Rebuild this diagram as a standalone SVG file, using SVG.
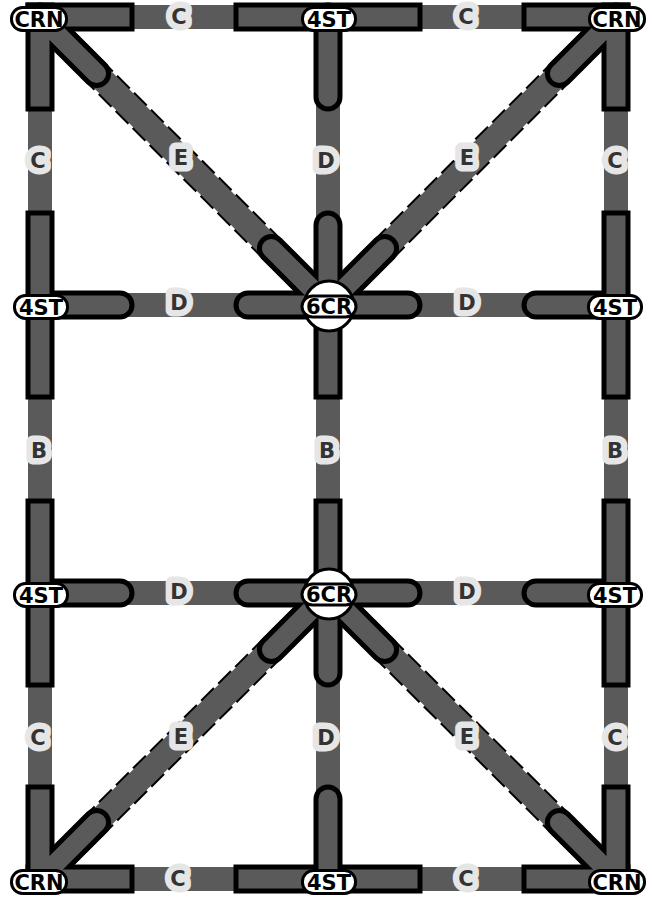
<svg xmlns="http://www.w3.org/2000/svg" width="652" height="899" viewBox="0 0 652 899">
<style>
.e{stroke:#5a5a5a;stroke-width:24;fill:none}
.ed{stroke:#000;stroke-width:28;fill:none;stroke-dasharray:18 6}
.kb{stroke:#000;stroke-width:29;stroke-linecap:square;fill:none}
.kg{stroke:#5a5a5a;stroke-width:19;stroke-linecap:square;fill:none}
.rb{stroke:#000;stroke-width:29;stroke-linecap:round;fill:none}
.rg{stroke:#5a5a5a;stroke-width:19;stroke-linecap:round;fill:none}
.el{font-family:"DejaVu Sans",sans-serif;font-weight:bold;font-size:21px;fill:#333;stroke:#e6e6e6;stroke-width:13;stroke-linejoin:round;paint-order:stroke;text-anchor:middle;dominant-baseline:central}
.lb{fill:#fff;stroke:#000;stroke-width:3}
.ci{fill:#fff;stroke:#000;stroke-width:3}
.nt{font-family:"DejaVu Sans",sans-serif;font-weight:bold;font-size:21px;fill:#000;text-anchor:middle;dominant-baseline:central}
</style>
<g id="connectors">
<line class="e" x1="40" y1="17" x2="328" y2="17"/>
<line class="e" x1="328" y1="17" x2="616" y2="17"/>
<line class="e" x1="40" y1="879" x2="328" y2="879"/>
<line class="e" x1="328" y1="879" x2="616" y2="879"/>
<line class="e" x1="40" y1="17" x2="40" y2="879"/>
<line class="e" x1="616" y1="17" x2="616" y2="879"/>
<line class="e" x1="328" y1="17" x2="328" y2="879"/>
<line class="e" x1="40" y1="305" x2="616" y2="305"/>
<line class="e" x1="40" y1="593" x2="616" y2="593"/>
<line class="ed" x1="40" y1="17" x2="328" y2="305"/>
<line class="e" x1="40" y1="17" x2="328" y2="305"/>
<line class="ed" x1="616" y1="17" x2="328" y2="305"/>
<line class="e" x1="616" y1="17" x2="328" y2="305"/>
<line class="ed" x1="40" y1="879" x2="328" y2="593"/>
<line class="e" x1="40" y1="879" x2="328" y2="593"/>
<line class="ed" x1="616" y1="879" x2="328" y2="593"/>
<line class="e" x1="616" y1="879" x2="328" y2="593"/>
<text class="el" x="179" y="17">C</text>
<text class="el" x="466" y="17">C</text>
<text class="el" x="178" y="879">C</text>
<text class="el" x="466" y="879">C</text>
<text class="el" x="38" y="161">C</text>
<text class="el" x="615" y="161">C</text>
<text class="el" x="38" y="738">C</text>
<text class="el" x="615" y="738">C</text>
<text class="el" x="39" y="451">B</text>
<text class="el" x="327" y="451">B</text>
<text class="el" x="615" y="451">B</text>
<text class="el" x="326" y="161">D</text>
<text class="el" x="326" y="738">D</text>
<text class="el" x="179" y="303">D</text>
<text class="el" x="467" y="303">D</text>
<text class="el" x="179" y="592">D</text>
<text class="el" x="467" y="592">D</text>
<text class="el" x="181" y="158">E</text>
<text class="el" x="467" y="158">E</text>
<text class="el" x="181" y="737">E</text>
<text class="el" x="467" y="737">E</text>
</g>
<g id="n-crn-tl">
<line class="kb" x1="40" y1="17" x2="120" y2="17"/><line class="kb" x1="40" y1="17" x2="40" y2="97"/><line class="rb" x1="40" y1="17" x2="96.6" y2="73.6"/>
<line class="kg" x1="40" y1="17" x2="120" y2="17"/><line class="kg" x1="40" y1="17" x2="40" y2="97"/><line class="rg" x1="40" y1="17" x2="96.6" y2="73.6"/>
<rect class="lb" x="11.5" y="7.5" width="55" height="23" rx="11"/><text class="nt" x="39" y="20">CRN</text>
</g>
<g id="n-4st-t">
<line class="kb" x1="248" y1="17" x2="408" y2="17"/><line class="rb" x1="328" y1="17" x2="328" y2="97"/>
<line class="kg" x1="248" y1="17" x2="408" y2="17"/><line class="rg" x1="328" y1="17" x2="328" y2="97"/>
<rect class="lb" x="302.5" y="7.5" width="53" height="23" rx="11"/><text class="nt" x="329" y="20">4ST</text>
</g>
<g id="n-crn-tr">
<line class="kb" x1="616" y1="17" x2="536" y2="17"/><line class="kb" x1="616" y1="17" x2="616" y2="97"/><line class="rb" x1="616" y1="17" x2="559.4" y2="73.6"/>
<line class="kg" x1="616" y1="17" x2="536" y2="17"/><line class="kg" x1="616" y1="17" x2="616" y2="97"/><line class="rg" x1="616" y1="17" x2="559.4" y2="73.6"/>
<rect class="lb" x="589.5" y="7.5" width="55" height="23" rx="11"/><text class="nt" x="617" y="20">CRN</text>
</g>
<g id="n-4st-ml">
<line class="kb" x1="40" y1="225" x2="40" y2="385"/><line class="rb" x1="40" y1="305" x2="120" y2="305"/>
<line class="kg" x1="40" y1="225" x2="40" y2="385"/><line class="rg" x1="40" y1="305" x2="120" y2="305"/>
<rect class="lb" x="14.5" y="295.5" width="53" height="23" rx="11"/><text class="nt" x="41" y="308">4ST</text>
</g>
<g id="n-6cr-u">
<line class="rb" x1="328" y1="305" x2="328" y2="225"/><line class="kb" x1="328" y1="305" x2="328" y2="385"/><line class="rb" x1="248" y1="305" x2="408" y2="305"/><line class="rb" x1="328" y1="305" x2="271.4" y2="248.4"/><line class="rb" x1="328" y1="305" x2="384.6" y2="248.4"/>
<line class="rg" x1="328" y1="305" x2="328" y2="225"/><line class="kg" x1="328" y1="305" x2="328" y2="385"/><line class="rg" x1="248" y1="305" x2="408" y2="305"/><line class="rg" x1="328" y1="305" x2="271.4" y2="248.4"/><line class="rg" x1="328" y1="305" x2="384.6" y2="248.4"/>
<circle class="ci" cx="329" cy="306" r="25"/>
<rect class="lb" x="302" y="296" width="54" height="21" rx="10.5"/><text class="nt" x="329" y="307">6CR</text>
</g>
<g id="n-4st-mr">
<line class="kb" x1="616" y1="225" x2="616" y2="385"/><line class="rb" x1="616" y1="305" x2="536" y2="305"/>
<line class="kg" x1="616" y1="225" x2="616" y2="385"/><line class="rg" x1="616" y1="305" x2="536" y2="305"/>
<rect class="lb" x="588.5" y="295.5" width="53" height="23" rx="11"/><text class="nt" x="615" y="308">4ST</text>
</g>
<g id="n-4st-ll">
<line class="kb" x1="40" y1="513" x2="40" y2="673"/><line class="rb" x1="40" y1="593" x2="120" y2="593"/>
<line class="kg" x1="40" y1="513" x2="40" y2="673"/><line class="rg" x1="40" y1="593" x2="120" y2="593"/>
<rect class="lb" x="14.5" y="583.5" width="53" height="23" rx="11"/><text class="nt" x="41" y="596">4ST</text>
</g>
<g id="n-6cr-l">
<line class="kb" x1="328" y1="593" x2="328" y2="513"/><line class="rb" x1="328" y1="593" x2="328" y2="673"/><line class="rb" x1="248" y1="593" x2="408" y2="593"/><line class="rb" x1="328" y1="593" x2="271.4" y2="649.6"/><line class="rb" x1="328" y1="593" x2="384.6" y2="649.6"/>
<line class="kg" x1="328" y1="593" x2="328" y2="513"/><line class="rg" x1="328" y1="593" x2="328" y2="673"/><line class="rg" x1="248" y1="593" x2="408" y2="593"/><line class="rg" x1="328" y1="593" x2="271.4" y2="649.6"/><line class="rg" x1="328" y1="593" x2="384.6" y2="649.6"/>
<circle class="ci" cx="329" cy="594" r="25"/>
<rect class="lb" x="302" y="584" width="54" height="21" rx="10.5"/><text class="nt" x="329" y="595">6CR</text>
</g>
<g id="n-4st-lr">
<line class="kb" x1="616" y1="513" x2="616" y2="673"/><line class="rb" x1="616" y1="593" x2="536" y2="593"/>
<line class="kg" x1="616" y1="513" x2="616" y2="673"/><line class="rg" x1="616" y1="593" x2="536" y2="593"/>
<rect class="lb" x="588.5" y="583.5" width="53" height="23" rx="11"/><text class="nt" x="615" y="596">4ST</text>
</g>
<g id="n-crn-bl">
<line class="kb" x1="40" y1="879" x2="120" y2="879"/><line class="kb" x1="40" y1="879" x2="40" y2="799"/><line class="rb" x1="40" y1="879" x2="96.6" y2="822.4"/>
<line class="kg" x1="40" y1="879" x2="120" y2="879"/><line class="kg" x1="40" y1="879" x2="40" y2="799"/><line class="rg" x1="40" y1="879" x2="96.6" y2="822.4"/>
<rect class="lb" x="11.5" y="870.5" width="55" height="23" rx="11"/><text class="nt" x="39" y="883">CRN</text>
</g>
<g id="n-4st-b">
<line class="kb" x1="248" y1="879" x2="408" y2="879"/><line class="rb" x1="328" y1="879" x2="328" y2="799"/>
<line class="kg" x1="248" y1="879" x2="408" y2="879"/><line class="rg" x1="328" y1="879" x2="328" y2="799"/>
<rect class="lb" x="302.5" y="870.5" width="53" height="23" rx="11"/><text class="nt" x="329" y="883">4ST</text>
</g>
<g id="n-crn-br">
<line class="kb" x1="616" y1="879" x2="536" y2="879"/><line class="kb" x1="616" y1="879" x2="616" y2="799"/><line class="rb" x1="616" y1="879" x2="559.4" y2="822.4"/>
<line class="kg" x1="616" y1="879" x2="536" y2="879"/><line class="kg" x1="616" y1="879" x2="616" y2="799"/><line class="rg" x1="616" y1="879" x2="559.4" y2="822.4"/>
<rect class="lb" x="589.5" y="870.5" width="55" height="23" rx="11"/><text class="nt" x="617" y="883">CRN</text>
</g>
</svg>
